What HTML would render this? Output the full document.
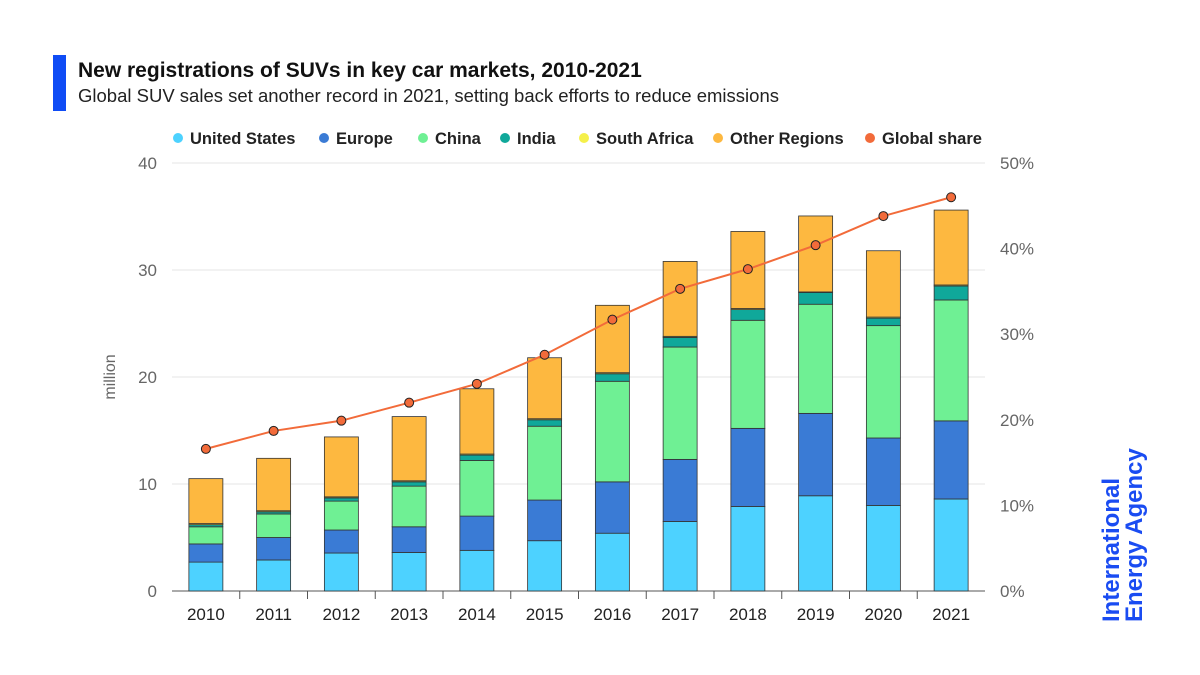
<!DOCTYPE html>
<html><head><meta charset="utf-8"><style>
body{margin:0;background:#fff;font-family:"Liberation Sans",sans-serif;}
#wrap{position:relative;width:1200px;height:675px;overflow:hidden;}
</style></head><body><div id="wrap">
<div style="position:absolute;left:53px;top:55px;width:13px;height:56px;background:#0f4cf5"></div>
<div style="position:absolute;left:78px;top:59px;font-size:21px;font-weight:bold;color:#111">New registrations of SUVs in key car markets, 2010-2021</div>
<div style="position:absolute;left:78px;top:85px;font-size:18.5px;color:#222">Global SUV sales set another record in 2021, setting back efforts to reduce emissions</div>
<div style="position:absolute;left:1100px;top:622px;transform:rotate(-90deg);transform-origin:0 0;font-size:24px;line-height:23px;font-weight:bold;color:#1a4cf2;white-space:nowrap">International<br>Energy Agency</div>
<svg id="c" width="1200" height="675" style="position:absolute;left:0;top:0"></svg>
</div>
<script>
const years=["2010","2011","2012","2013","2014","2015","2016","2017","2018","2019","2020","2021"];
const unitedStates=[2.7,2.9,3.55,3.6,3.8,4.7,5.4,6.5,7.9,8.9,8.0,8.6];
const europe=[1.7,2.1,2.15,2.4,3.2,3.8,4.8,5.8,7.3,7.7,6.3,7.3];
const china=[1.6,2.2,2.7,3.8,5.2,6.9,9.4,10.5,10.1,10.2,10.5,11.3];
const india=[0.2,0.2,0.3,0.4,0.5,0.6,0.7,0.9,1.0,1.1,0.7,1.3];
const southAfrica=[0.1,0.1,0.1,0.1,0.1,0.1,0.1,0.1,0.1,0.05,0.1,0.1];
const otherRegions=[4.2,4.9,5.6,6.0,6.1,5.7,6.3,7.0,7.2,7.1,6.2,7.0];
const globalShare=[16.6,18.7,19.9,22.0,24.2,27.6,31.7,35.3,37.6,40.4,43.8,46.0];
const leftTicks=[0,10,20,30,40];
const rightTicks=["0%","10%","20%","30%","40%","50%"];
const series=[["united-states",unitedStates,"#4dd2ff"],["europe",europe,"#3a7bd5"],["china",china,"#6ff094"],["india",india,"#10a89a"],["south-africa",southAfrica,"#f5f04a"],["other-regions",otherRegions,"#fdb840"]];
const legendLabels=["United States","Europe","China","India","South Africa","Other Regions","Global share"];
const NS="http://www.w3.org/2000/svg",svg=document.getElementById("c");
const y0=591,y1=163,x0=172,x1=985;
const yL=v=>y0-(v/40)*(y0-y1);
const yR=p=>y0-(p/50)*(y0-y1);
const bw=(x1-x0)/years.length;
const xC=i=>x0+bw*(i+0.5);
function mk(t,a,txt){const e=document.createElementNS(NS,t);for(const k in a)e.setAttribute(k,a[k]);if(txt!=null)e.textContent=txt;svg.appendChild(e);return e;}
leftTicks.forEach(t=>{
 const g=mk("line",{x1:x0,x2:x1,y1:yL(t),y2:yL(t),stroke:t?"#e6e6e6":"#555","stroke-width":1});
 
 const l=mk("text",{x:157,y:yL(t)+6,"text-anchor":"end","font-size":17,fill:"#666"},t);
 
});
rightTicks.forEach((t,i)=>{
 const l=mk("text",{x:1000,y:yR(i*10)+6,"font-size":17,fill:"#666"},t);
 
});
const yt=mk("text",{x:0,y:0,"font-size":16,fill:"#666","text-anchor":"middle",transform:"translate(115,377) rotate(-90)"},"million");

years.forEach((y,i)=>{
 let acc=0;
 series.forEach(s=>{
  const v=s[1][i];const r=mk("rect",{x:xC(i)-17,y:yL(acc+v),width:34,height:yL(acc)-yL(acc+v),fill:s[2],stroke:"#333","stroke-width":0.8});
  
  acc+=v;
 });
 const l=mk("text",{x:xC(i),y:620,"text-anchor":"middle","font-size":17,fill:"#222"},y);
 
 if(i>0){const t=mk("line",{x1:x0+bw*i,x2:x0+bw*i,y1:591,y2:599,stroke:"#555"});}
});
const pl=mk("polyline",{points:globalShare.map((p,i)=>xC(i)+","+yR(p)).join(" "),fill:"none",stroke:"#f26b3a","stroke-width":2});

globalShare.forEach((p,i)=>{const c=mk("circle",{cx:xC(i),cy:yR(p),r:4.5,fill:"#f26b3a",stroke:"#222","stroke-width":1});
 });
const lx=[172,318,417,499,578,712,864],lc=["#4dd2ff","#3a7bd5","#6ff094","#10a89a","#f5f04a","#fdb840","#f26b3a"];
legendLabels.forEach((t,i)=>{
 const c=mk("circle",{cx:lx[i]+6,cy:138,r:5,fill:lc[i]});
 const l=mk("text",{x:lx[i]+18,y:144,"font-size":16.5,"font-weight":"bold",fill:"#222"},t);
 
});
</script></body></html>
